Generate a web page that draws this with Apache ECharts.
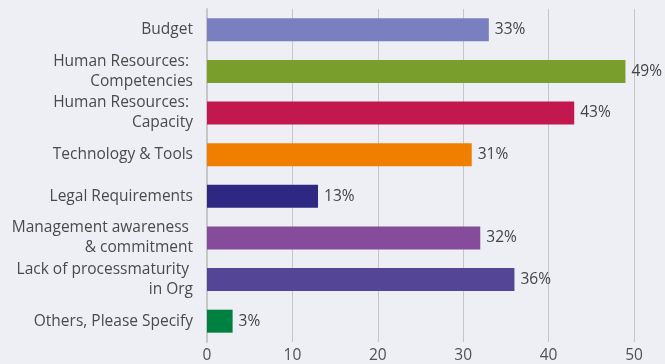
<!DOCTYPE html>
<html><head><meta charset="utf-8">
<script src="https://cdn.jsdelivr.net/npm/echarts@6/dist/echarts.min.js"></script>
<style>html,body{margin:0;padding:0;background:#eeeff5}#c{width:665px;height:364px}</style>
</head><body><div id="c"></div>
<script>
var categories = ["Budget","Human Resources: \nCompetencies","Human Resources: \nCapacity","Technology & Tools","Legal Requirements","Management awareness \n& commitment","Lack of processmaturity \nin Org","Others, Please Specify"];
var values = [33,49,43,31,13,32,36,3];
var colors = ["#7a7fbf","#7a9e2c","#c2174f","#f07f00","#2e2882","#844c9a","#544596","#008140"];
var xTicks = [0,10,20,30,40,50];
var chart = echarts.init(document.getElementById('c'));
var font = "'Open Sans', 'Noto Sans', sans-serif";
chart.setOption({
  backgroundColor:'#eeeff5',
  animation:false,
  grid:{left:207,right:31,top:9,bottom:19,containLabel:false},
  xAxis:{type:'value',min:0,max:50,interval:10,
    axisLine:{show:false},axisTick:{show:false},
    splitLine:{lineStyle:{color:'#c6c6c9',width:1}},
    axisLabel:{color:'#505050',fontSize:15.5,fontFamily:font,margin:6,
      formatter:function(v){return xTicks.indexOf(v)>=0?String(v):'';}}},
  yAxis:{type:'category',inverse:true,data:categories,
    axisLine:{show:true,lineStyle:{color:'#c6c6c9',width:2}},axisTick:{show:false},
    axisLabel:{color:'#4a4a4a',fontSize:15.5,fontFamily:font,margin:14,lineHeight:20,align:'right'}},
  series:[{type:'bar',barWidth:23,
    data:values.map(function(v,i){return {value:v,itemStyle:{color:colors[i]}};}),
    label:{show:true,position:'right',distance:6,formatter:'{c}%',color:'#444',fontSize:15.5,fontFamily:font}}]
});
</script></body></html>
